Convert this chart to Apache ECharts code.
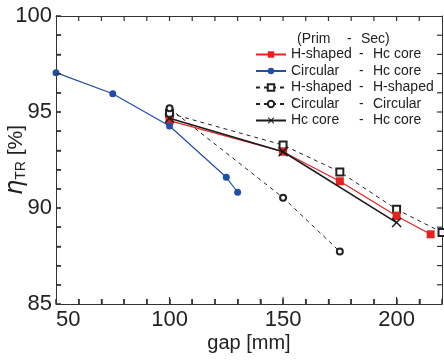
<!DOCTYPE html>
<html>
<head>
<meta charset="utf-8">
<script src="https://cdn.jsdelivr.net/npm/echarts@6/dist/echarts.min.js"></script>
<style>
  html, body { margin: 0; padding: 0; background: #fff; }
  #chart { width: 444px; height: 360px; }
</style>
</head>
<body>
<div id="chart"></div>
<script>
// 数据（gap [mm], η_TR [%]）
const hHcGap = [100, 150, 175, 200, 215];
const hHcEff = [94.55, 92.93, 91.39, 89.58, 88.63];
const cHcGap = [50, 75, 100, 125, 130];
const cHcEff = [97.05, 95.95, 94.27, 91.6, 90.82];
const hHGap = [100, 150, 175, 200, 220];
const hHEff = [94.93, 93.28, 91.88, 89.93, 88.73];
const cCGap = [100, 150, 175];
const cCEff = [95.19, 90.54, 87.73];
const hcHcGap = [100, 150, 200];
const hcHcEff = [94.67, 92.93, 89.24];
const seriesNames = [
  'H-shaped - Hc core',
  'Circular - Hc core',
  'H-shaped - H-shaped',
  'Circular - Circular',
  'Hc core - Hc core'
];
// 刻度位置
const xTicks = [60, 70, 80, 90, 100, 110, 120, 130, 140, 150, 160, 170, 180, 190, 200, 210];
const yTicks = [86, 87, 88, 89, 90, 91, 92, 93, 94, 95, 96, 97, 98, 99];

const pair = (xs, ys) => xs.map((x, i) => [x, ys[i]]);
const font = '"Liberation Sans", Arial, sans-serif';
const txt = '#222';
const axisColor = '#333';
const crossPath = 'path://M0,1L1,0L5,4L9,0L10,1L6,5L10,9L9,10L5,6L1,10L0,9L4,5Z';

// 刻度用细矩形绘制
const tickRect = (x, y, w, h) => ({
  type: 'rect',
  shape: { x, y, width: w, height: h },
  style: { fill: '#333' }
});

const chart = echarts.init(document.getElementById('chart'));

const option = {
  animation: false,
  textStyle: { fontFamily: font, color: txt },
  grid: { left: 56, right: 2, top: 16, bottom: 56, containLabel: false, outerBoundsMode: 'none' },
  title: {
    text: '{a|(Prim}{b|-}{c|Sec)}',
    left: 292,
    top: 27,
    textStyle: {
      fontFamily: font,
      fontWeight: 'normal',
      rich: {
        a: { width: 50, fontSize: 14, color: txt, fontFamily: font },
        b: { width: 14, fontSize: 14, color: txt, fontFamily: font },
        c: { fontSize: 14, color: txt, fontFamily: font }
      }
    }
  },
  legend: {
    orient: 'vertical',
    left: 250,
    top: 42.5,
    itemWidth: 30,
    itemHeight: 8,
    itemGap: 2.5,
    data: seriesNames,
    formatter: (name) => {
      const p = name.split(' - ');
      return '{n|' + p[0] + '}{d|-}{s|' + p[1] + '}';
    },
    textStyle: {
      fontFamily: font,
      color: txt,
      padding: [0, 0, 0, 0],
      rich: {
        n: { width: 68, fontSize: 14, lineHeight: 16, color: txt, fontFamily: font },
        d: { width: 14, fontSize: 14, lineHeight: 16, color: txt, fontFamily: font },
        s: { fontSize: 14, lineHeight: 16, color: txt, fontFamily: font }
      }
    }
  },
  xAxis: [
    {
      type: 'value',
      min: 50,
      max: 220,
      interval: 10,
      position: 'bottom',
      name: 'gap [mm]',
      nameLocation: 'middle',
      nameGap: 29,
      nameMoveOverlap: false,
      nameTextStyle: { fontSize: 20, color: txt, fontFamily: font },
      axisLine: { show: true, lineStyle: { color: axisColor, width: 1 } },
      axisTick: { show: true, inside: true, length: 5, lineStyle: { color: axisColor, width: 1.5 } },
      splitLine: { show: false },
      axisLabel: {
        fontSize: 22,
        color: txt,
        margin: 5,
        fontFamily: font,
        alignMinLabel: 'left',
        formatter: (v) => (v % 50 === 0 && v <= 200 ? String(v) : '')
      }
    },
    {
      type: 'value',
      min: 50,
      max: 220,
      position: 'top',
      axisLine: { show: true, lineStyle: { color: axisColor, width: 1 } },
      axisTick: { show: false },
      axisLabel: { show: false },
      splitLine: { show: false }
    }
  ],
  yAxis: [
    {
      type: 'value',
      min: 85,
      max: 100,
      interval: 1,
      position: 'left',
      name: '{e|η}{t|TR}{b| [%]}',
      nameLocation: 'middle',
      nameRotate: 90,
      nameGap: 28,
      nameMoveOverlap: false,
      nameTextStyle: {
        rich: {
          e: { fontSize: 24, fontStyle: 'italic', color: txt, fontFamily: '"DejaVu Sans", sans-serif' },
          t: { fontSize: 14, color: txt, fontFamily: font, padding: [10, 0, 0, 0] },
          b: { fontSize: 21, color: txt, fontFamily: font }
        }
      },
      axisLine: { show: true, lineStyle: { color: axisColor, width: 1 } },
      axisTick: { show: true, inside: true, length: 5, lineStyle: { color: axisColor, width: 1.5 } },
      splitLine: { show: false },
      axisLabel: {
        fontSize: 22,
        color: txt,
        margin: 4,
        fontFamily: font,
        formatter: (v) => (v % 5 === 0 ? String(v) : '')
      }
    },
    {
      type: 'value',
      min: 85,
      max: 100,
      position: 'right',
      axisLine: { show: true, lineStyle: { color: axisColor, width: 1 } },
      axisTick: { show: false },
      axisLabel: { show: false },
      splitLine: { show: false }
    }
  ],
  series: [
    // x 方向刻度（上下两边，朝内）
    {
      type: 'custom',
      silent: true,
      clip: false,
      xAxisIndex: 0,
      yAxisIndex: 0,
      data: xTicks.map((v) => [v, 85]),
      encode: { x: 0, y: 1 },
      renderItem: (params, api) => {
        const v = api.value(0);
        const b = api.coord([v, 85]);
        const t = api.coord([v, 100]);
        const len = v % 50 === 0 ? 7 : 5;
        return {
          type: 'group',
          children: [
            tickRect(b[0] - 0.6, b[1] - len, 1.2, len),
            tickRect(t[0] - 0.6, t[1], 1.2, 5)
          ]
        };
      },
      z: 6
    },
    // y 方向刻度（左右两边，朝内）
    {
      type: 'custom',
      silent: true,
      clip: false,
      xAxisIndex: 0,
      yAxisIndex: 0,
      data: yTicks.map((v) => [50, v]),
      encode: { x: 0, y: 1 },
      renderItem: (params, api) => {
        const v = api.value(1);
        const l = api.coord([50, v]);
        const r = api.coord([220, v]);
        return {
          type: 'group',
          children: [
            tickRect(l[0], l[1] - 0.6, 5, 1.2),
            tickRect(r[0] - 5, r[1] - 0.6, 5, 1.2)
          ]
        };
      },
      z: 6
    },
    {
      name: seriesNames[0],
      type: 'line',
      data: pair(hHcGap, hHcEff),
      symbol: 'rect',
      symbolSize: 8,
      clip: false,
      color: '#e8201e',
      itemStyle: { color: '#e8201e' },
      lineStyle: { color: '#e8201e', width: 1.2 },
      z: 3
    },
    {
      name: seriesNames[2],
      type: 'line',
      data: pair(hHGap, hHEff),
      symbol: 'emptyRect',
      symbolSize: 7,
      clip: false,
      color: '#222',
      itemStyle: { color: '#222', borderWidth: 1 },
      lineStyle: { color: '#222', width: 1, type: [4, 4] },
      z: 2
    },
    {
      name: seriesNames[3],
      type: 'line',
      data: pair(cCGap, cCEff),
      symbol: 'emptyCircle',
      symbolSize: 6,
      clip: false,
      color: '#222',
      itemStyle: { color: '#222', borderWidth: 1 },
      lineStyle: { color: '#222', width: 1, type: [4, 4] },
      z: 2
    },
    {
      name: seriesNames[4],
      type: 'line',
      data: pair(hcHcGap, hcHcEff),
      symbol: crossPath,
      symbolSize: 10,
      clip: false,
      color: '#1a1a1a',
      itemStyle: { color: '#1a1a1a' },
      lineStyle: { color: '#1a1a1a', width: 1.5 },
      z: 4
    },
    {
      name: seriesNames[1],
      type: 'line',
      data: pair(cHcGap, cHcEff),
      symbol: 'circle',
      symbolSize: 7,
      clip: false,
      color: '#1f4fa6',
      itemStyle: { color: '#1f4fa6' },
      lineStyle: { color: '#1f4fa6', width: 1.2 },
      z: 5
    }
  ]
};

chart.setOption(option);
</script>
</body>
</html>
